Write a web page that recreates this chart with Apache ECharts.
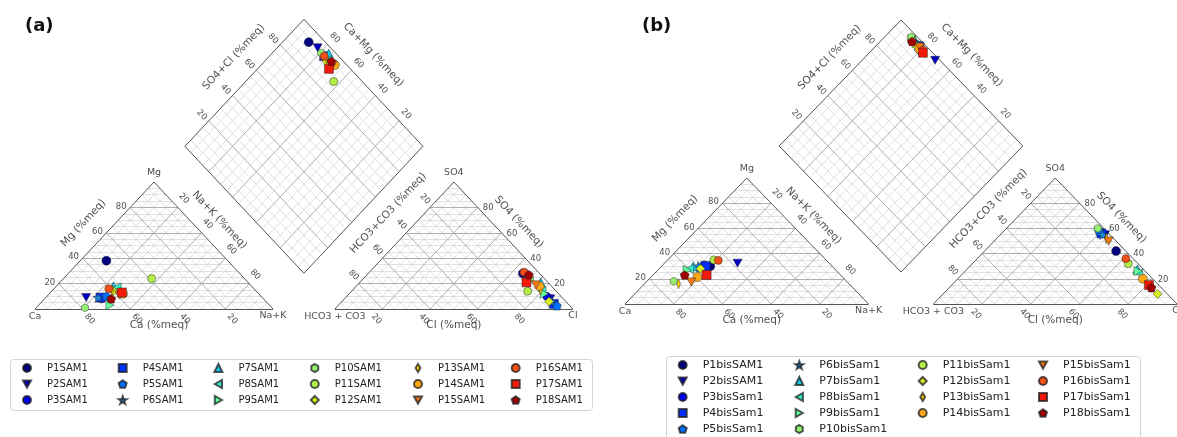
<!DOCTYPE html>
<html><head><meta charset="utf-8">
<script src="https://cdn.jsdelivr.net/npm/echarts/dist/echarts.min.js"></script>
<style>html,body{margin:0;padding:0;background:#fff}#c{width:1177px;height:437px}</style>
</head><body><div id="c"></div>
<script>
// ---------------- DATA ----------------
const TICKS = [20, 40, 60, 80];
const MINOR_STEP = 5;

const NAMES_A = ['P1SAM1','P2SAM1','P3SAM1','P4SAM1','P5SAM1','P6SAM1','P7SAM1','P8SAM1','P9SAM1',
  'P10SAM1','P11SAM1','P12SAM1','P13SAM1','P14SAM1','P15SAM1','P16SAM1','P17SAM1','P18SAM1'];
const CA_A  = [51, 74, 68, 68, 65, 69, 58, 57, 67, 78.5, 39, 60, 60, 57, 59, 61, 57, 64];
const MG_A  = [38, 9, 8, 9, 10, 9, 18, 17, 3, 1, 24, 14, 15, 12, 11, 16, 13, 8];
const SO4_A = [28, 8, 10, 4, 2.5, 6, 21, 14, 12, 24, 14, 6, 15, 18, 19, 29, 21, 27];
const CL_A  = [65, 86.5, 84, 90, 92, 88, 76, 80, 82, 70, 74, 87, 79, 77, 75, 65, 70, 68];

const NAMES_B = ['P1bisSAM1','P2bisSAM1','P3bisSam1','P4bisSam1','P5bisSam1','P6bisSam1','P7bisSam1',
  'P8bisSam1','P9bisSam1','P10bisSam1','P11bisSam1','P12bisSam1','P13bisSam1','P14bisSam1',
  'P15bisSam1','P16bisSam1','P17bisSam1','P18bisSam1'];
const CA_B  = [50, 37.6, 52, 52, 55, 55, 57, 59.5, 61, 71, 46, 55, 70, 59.6, 64, 44.4, 55, 64];
const MG_B  = [30, 32.4, 31, 30, 29, 30, 30, 28, 27, 18, 35, 28, 16, 21.4, 17.5, 34.6, 23, 23];
const SO4_B = [42, 55, 57, 56, 58, 55, 27.5, 24.5, 26, 60, 32, 8, 52, 20, 50, 36, 15, 13];
const CL_B  = [54, 43, 40, 41, 39, 42, 70, 72, 71, 37.5, 64, 88, 45, 76, 47, 61, 81, 83];

// ---------------- STYLE ----------------
const SYM = {
  circle: 'circle', square: 'rect', up: 'triangle', diamond: 'diamond',
  down: 'path://M0,0L10,0L5,9Z',
  left: 'path://M0,5L9,0L9,10Z',
  right: 'path://M9,5L0,0L0,10Z',
  pent: 'path://M5,0L9.76,3.45L7.94,9.05L2.06,9.05L0.24,3.45Z',
  star: 'path://M5,0L6.18,3.38L9.76,3.45L6.9,5.62L7.94,9.05L5,7L2.06,9.05L3.1,5.62L0.24,3.45L3.82,3.38Z',
  hex: 'path://M5,0L9.33,2.5L9.33,7.5L5,10L0.67,7.5L0.67,2.5Z',
  thin: 'path://M3,0L6,5L3,10L0,5Z'
};
const MARKERS = ['circle','down','circle','square','pent','star','up','left','right','hex',
  'circle','diamond','thin','circle','down','circle','square','pent'];
const SIZES = [9, 9, 8, 9, 9, 10, 9, 9, 9, 8, 8, 9, [6, 10], 9, 9, 8, 9, 9];
const COLORS = ['#00007f','#0000c4','#0000f0','#0030ff','#0070ff','#1e88d8','#16c8ee','#36f0c8','#63ffa0',
  '#94f070','#b4f048','#d8f020','#ffd200','#ffa818','#f57a10','#f45018','#f41a0a','#a00000'];

const FONT = 'DejaVu Sans';
const H = Math.sqrt(3) / 2;

const LAYOUT = [
  { left: 35, base: 309, side: 238, hpx: 127, top: 19.3, o: 0.13 },
  { left: 625, base: 304, side: 245, hpx: 126, top: 20, o: 0.133 }
];

const grids = [], xAxes = [], yAxes = [], series = [];

function buildPanel(k, L, names, CA, MG, SO4, CL) {
  const sx = L.side, sy = L.hpx / H;
  const ymax = (L.base - L.top) / sy;
  const Hd = ymax - 2 * H;
  const o = L.o, xmax = 2 + 2 * o;
  const th = Math.atan2(L.hpx, L.side / 2) * 180 / Math.PI;
  const cat = (ca, mg) => [1 - ca - mg + mg / 2, H * mg];
  const an = (so4, cl) => [1 + 2 * o + cl + so4 / 2, H * so4];
  const dia = (n, s) => [1 + o - (1 - n) / 2 + s / 2, Hd + (1 - n) * H + s * H];
  const off = (p, dx, dy) => [p[0] + dx / sx, p[1] - dy / sy];

  grids.push({ left: L.left, top: L.top, width: xmax * sx, height: L.base - L.top, containLabel: false });
  xAxes.push({ gridIndex: k, type: 'value', min: 0, max: xmax, show: false });
  yAxes.push({ gridIndex: k, type: 'value', min: 0, max: ymax, show: false });

  const minor = [], major = [], outline = [];
  for (let v = MINOR_STEP; v < 100; v += MINOR_STEP) {
    const f = v / 100;
    const t = (v % 20 === 0) ? major : minor;
    t.push([cat(1 - f, f), cat(0, f)], [cat(1 - f, 0), cat(0, 1 - f)], [cat(f, 0), cat(f, 1 - f)]);
    t.push([an(f, 0), an(f, 1 - f)], [an(0, f), an(1 - f, f)], [an(0, 1 - f), an(1 - f, 0)]);
    t.push([dia(f, 0), dia(f, 1)], [dia(0, f), dia(1, f)]);
  }
  outline.push([cat(1, 0), cat(0, 1)], [cat(0, 1), cat(0, 0)], [cat(0, 0), cat(1, 0)]);
  outline.push([an(0, 0), an(1, 0)], [an(1, 0), an(0, 1)], [an(0, 1), an(0, 0)]);
  outline.push([dia(1, 0), dia(0, 0)], [dia(0, 0), dia(0, 1)], [dia(0, 1), dia(1, 1)], [dia(1, 1), dia(1, 0)]);

  const lineSeries = (arr, color, width, z) => ({
    type: 'lines', coordinateSystem: 'cartesian2d', xAxisIndex: k, yAxisIndex: k,
    data: arr.map(c => ({ coords: c })), silent: true, z: z, animation: false, clip: false,
    lineStyle: { color: color, width: width, opacity: 1 }
  });
  series.push(lineSeries(minor, '#d2d2d2', 0.7, 1));
  series.push(lineSeries(major, '#a6a6a6', 0.9, 2));
  series.push(lineSeries(outline, '#555555', 1, 3));

  // text labels
  const labels = [];
  const add = (p, text, dx, dy, rot, size) => labels.push({ p: off(p, dx, dy), text, rot: rot || 0, size: size || 8.5 });
  TICKS.forEach(tv => {
    const t = tv / 100;
    add(cat(1 - t, t), String(tv), -9, -1, 0);
    add(cat(0, 1 - t), String(tv), 6, -9, -th);
    add(cat(t, 0), String(tv), 7, 10, -th);
    add(an(1 - t, 0), String(tv), -5, -8.5, -th);
    add(an(t, 1 - t), String(tv), 10.5, 0.5, 0);
    add(an(0, t), String(tv), -6, 10, -th);
    add(dia(0, t), String(tv), -7, -6, -th);
    add(dia(1 - t, 1), String(tv), 7, -7, -th);
  });
  add(cat(0, 1), 'Mg', 0, -9, 0, 9.5);
  add(cat(1, 0), 'Ca', 0, 8, 0, 9.5);
  add(cat(0, 0), 'Na+K', 0, 7, 0, 9.5);
  add(an(1, 0), 'SO4', 0, -9, 0, 9.5);
  add(an(0, 0), 'HCO3 + CO3', 0, 8, 0, 9.5);
  add(an(0, 1), 'Cl', 0, 7, 0, 9.5);
  add(cat(0.45, 0.55), 'Mg (%meq)', -17, -16, th, 10.5);
  add(cat(0, 0.55), 'Na+K (%meq)', 12, -19, -th, 10.5);
  add(cat(0.5, 0), 'Ca (%meq)', 5, 16, 0, 10.5);
  add(an(0.55, 0), 'HCO3+CO3 (%meq)', -12, -26, th, 10.5);
  add(an(0.55, 0.45), 'SO4 (%meq)', 11.5, -17, -th, 10.5);
  add(an(0, 0.5), 'Cl (%meq)', 0, 16.5, 0, 10.5);
  add(dia(0, 0.55), 'SO4+Cl (%meq)', -16.6, -19.3, th, 10.5);
  add(dia(0.45, 1), 'Ca+Mg (%meq)', 16, -21.6, -th, 10.5);

  series.push({
    type: 'scatter', xAxisIndex: k, yAxisIndex: k, silent: true, z: 4, animation: false, clip: false,
    symbol: 'rect', symbolSize: 1, itemStyle: { color: 'rgba(0,0,0,0)' },
    label: { show: true, position: 'inside', color: '#222', fontFamily: FONT, align: 'center', verticalAlign: 'middle' },
    data: labels.map(l => ({ value: l.p, label: { formatter: l.text, rotate: l.rot, fontSize: l.size } }))
  });

  // sample points
  names.forEach((nm, i) => {
    const ca = CA[i] / 100, mg = MG[i] / 100, so4 = SO4[i] / 100, cl = CL[i] / 100;
    series.push({
      name: nm, type: 'scatter', xAxisIndex: k, yAxisIndex: k, z: 10, animation: false, clip: false,
      symbol: SYM[MARKERS[i]], symbolSize: SIZES[i], symbolKeepAspect: true,
      itemStyle: { color: COLORS[i], borderColor: 'rgba(30,30,30,0.75)', borderWidth: 0.6, opacity: 1 },
      emphasis: { disabled: true },
      data: [cat(ca, mg), an(so4, cl), dia(1 - ca - mg, so4 + cl)]
    });
  });
}

buildPanel(0, LAYOUT[0], NAMES_A, CA_A, MG_A, SO4_A, CL_A);
buildPanel(1, LAYOUT[1], NAMES_B, CA_B, MG_B, SO4_B, CL_B);

// legends
const legends = [];
const LEG_A = { cols: [26, 121.7, 217.4, 313.8, 417, 514.7], perCol: [3, 3, 3, 3, 3, 3], top: 362, font: 10, lh: 12, gap: 4 };
const LEG_B = { cols: [681.7, 798.3, 921.7, 1042], perCol: [5, 5, 4, 4], top: 358.5, font: 11, lh: 13, gap: 3 };
function addLegend(cfg, names) {
  let idx = 0;
  cfg.cols.forEach((cx, j) => {
    const n = cfg.perCol[j];
    legends.push({
      orient: 'vertical', left: cx - 4, top: cfg.top, padding: 0,
      itemWidth: 8, itemHeight: 8, itemGap: cfg.gap, selectedMode: false,
      data: names.slice(idx, idx + n),
      textStyle: { fontSize: cfg.font, lineHeight: cfg.lh, color: '#222', fontFamily: FONT, padding: [0, 0, 0, 11] }
    });
    idx += n;
  });
}
addLegend(LEG_A, NAMES_A);
addLegend(LEG_B, NAMES_B);

const chart = echarts.init(document.getElementById('c'), null, { renderer: 'canvas' });
chart.setOption({
  animation: false,
  backgroundColor: '#fff',
  title: [
    { text: '(a)', left: 25, top: 17, padding: 0, textStyle: { fontSize: 18, fontWeight: 'bold', color: '#111', fontFamily: FONT } },
    { text: '(b)', left: 642, top: 17, padding: 0, textStyle: { fontSize: 18, fontWeight: 'bold', color: '#111', fontFamily: FONT } }
  ],
  graphic: [
    { type: 'rect', z: 0, shape: { x: 10.5, y: 359.5, width: 582, height: 51, r: 3 }, style: { fill: '#fff', stroke: '#d4d4d4', lineWidth: 1 } },
    { type: 'rect', z: 0, shape: { x: 666.5, y: 356.5, width: 474, height: 90, r: 3 }, style: { fill: '#fff', stroke: '#d4d4d4', lineWidth: 1 } }
  ],
  tooltip: { show: false },
  legend: legends,
  grid: grids,
  xAxis: xAxes,
  yAxis: yAxes,
  series: series
});
</script></body></html>
